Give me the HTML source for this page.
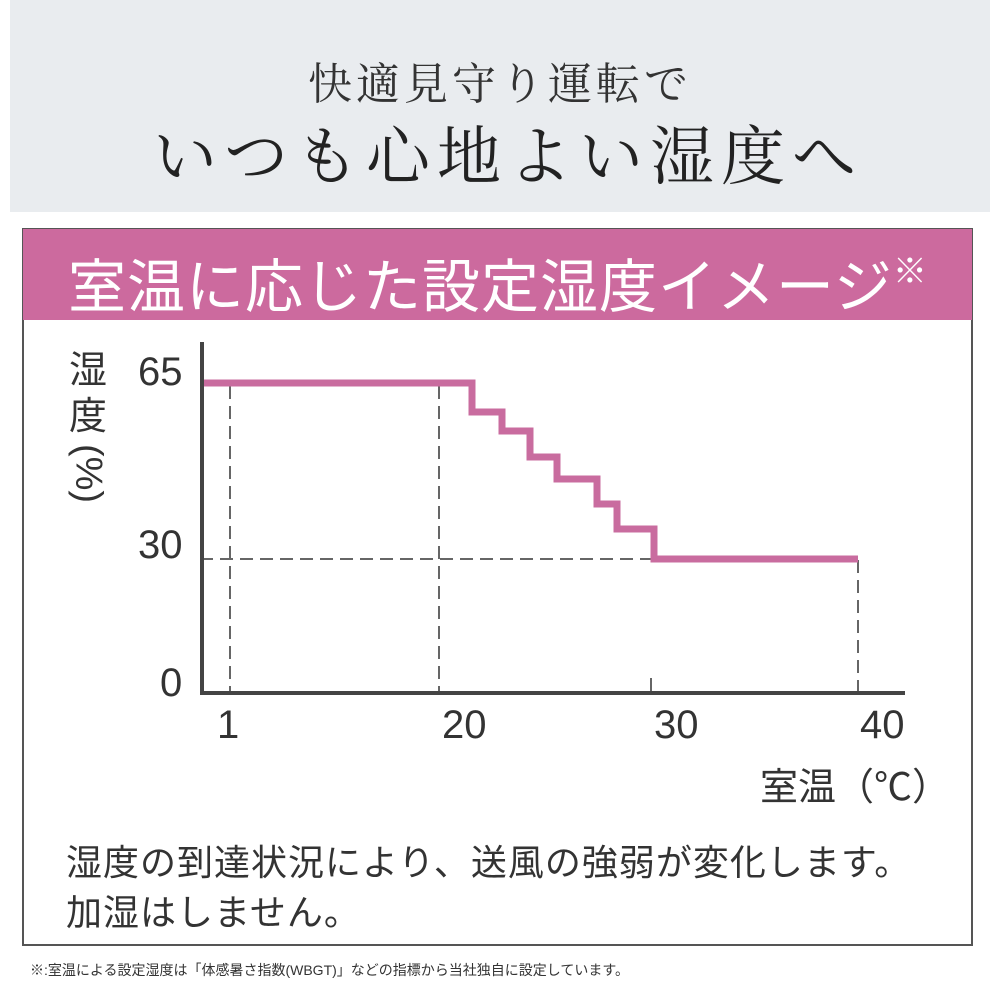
<!DOCTYPE html>
<html><head><meta charset="utf-8"><style>
body{margin:0;width:1000px;height:1000px;background:#fff;position:relative;overflow:hidden;font-family:"Liberation Sans","Noto Sans CJK JP",sans-serif;color:#333}
.a{position:absolute;white-space:nowrap}
</style></head><body>
<div class="a" style="left:10px;top:0;width:980px;height:212px;background:#e9ecef"></div>
<div class="a" style="left:0;width:1000px;top:48px;text-align:center;font-family:'Noto Serif CJK SC','Noto Serif CJK JP',serif;font-size:44px;letter-spacing:4px;color:#333">快適見守り運転で</div>
<div class="a" style="left:8px;width:1000px;top:106px;text-align:center;font-family:'Noto Serif CJK SC','Noto Serif CJK JP',serif;font-size:64px;letter-spacing:7px;color:#222">いつも心地よい湿度へ</div>
<div class="a" style="left:22px;top:228px;width:951px;height:718px;border:2px solid #555;box-sizing:border-box"></div>
<div class="a" style="left:23px;top:229px;width:949px;height:91px;background:#cc6a9e"></div>
<div class="a" style="left:68px;top:240px;font-size:58px;color:#fff;letter-spacing:1px;font-family:'Noto Sans CJK JP',sans-serif">室温に応じた設定湿度イメージ<span style="font-size:34px;vertical-align:24px">※</span></div>
<svg class="a" style="left:0;top:0" width="1000" height="1000">
<g stroke="#666" stroke-width="2" stroke-dasharray="13,7" fill="none">
<line x1="230" y1="386" x2="230" y2="692"/><line x1="439" y1="386" x2="439" y2="692"/>
<line x1="858" y1="560" x2="858" y2="692"/><line x1="200" y1="559" x2="652" y2="559"/>
</g>
<line x1="651" y1="678" x2="651" y2="692" stroke="#666" stroke-width="2"/>
<polyline points="202,383 472,383 472,412 502,412 502,431 530,431 530,457 557,457 557,479 597,479 597,504 617,504 617,529 654,529 654,559 858,559" fill="none" stroke="#c96c9f" stroke-width="7"/>
<polyline points="202,342 202,693 905,693" fill="none" stroke="#444" stroke-width="4"/>
</svg>
<div class="a" style="left:64px;top:348px;width:48px;font-size:38px;line-height:46px;white-space:normal;text-align:center">湿<br>度</div>
<div class="a" style="left:33px;top:452px;width:110px;text-align:center;font-size:38px;transform:rotate(90deg)">(%)</div>
<div class="a" style="left:138px;top:350px;font-size:40px;color:#333">65</div>
<div class="a" style="left:138px;top:523px;font-size:40px;color:#333">30</div>
<div class="a" style="left:160px;top:661px;font-size:40px;color:#333">0</div>
<div class="a" style="left:217px;top:703px;font-size:40px">1</div>
<div class="a" style="left:442px;top:703px;font-size:40px">20</div>
<div class="a" style="left:654px;top:703px;font-size:40px">30</div>
<div class="a" style="left:860px;top:703px;font-size:40px">40</div>
<div class="a" style="left:760px;top:756px;font-size:38px;font-family:'Noto Sans CJK JP',sans-serif">室温（℃）</div>
<div class="a" style="left:66px;top:834px;font-size:36px;letter-spacing:1px">湿度の到達状況により、送風の強弱が変化します。</div>
<div class="a" style="left:66px;top:884px;font-size:36px;letter-spacing:1px">加湿はしません。</div>
<div class="a" style="left:30px;top:960px;font-size:14px;color:#333">※:室温による設定湿度は「体感暑さ指数(WBGT)」などの指標から当社独自に設定しています。</div>
</body></html>
